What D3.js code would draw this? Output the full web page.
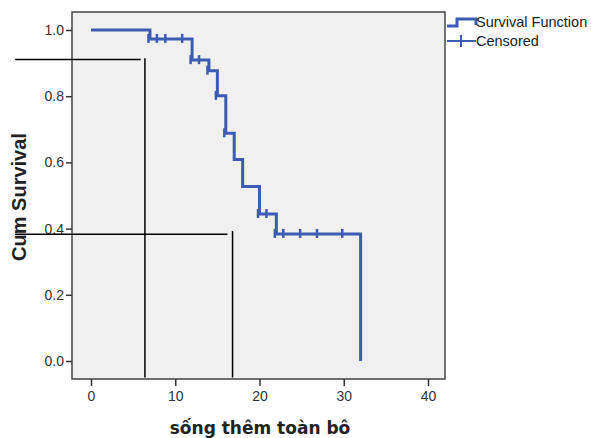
<!DOCTYPE html>
<html>
<head>
<meta charset="utf-8">
<script src="https://cdn.jsdelivr.net/npm/d3@7"></script>
<style>
  body { margin: 0; background: #fff; }
  svg text { font-family: Arial, "Liberation Sans", sans-serif; }
</style>
</head>
<body>
<div id="km-chart"></div>
<script>
// step points of the survival curve (time, cum survival)
var stepTimes = [0, 7, 12, 14, 15, 16, 17, 18, 20, 22, 32];
var stepSurvival = [1.0, 0.973, 0.909, 0.877, 0.801, 0.688, 0.609, 0.527, 0.444, 0.384, 0.0];

// censored cases
var censorTimes = [7, 8, 9, 11, 12, 13, 14, 15, 16, 20, 21, 22, 23, 25, 27, 30];

var xTicks = [0, 10, 20, 30, 40];
var yTicks = [0, 0.2, 0.4, 0.6, 0.8, 1.0];

// hand drawn reading lines (time range, survival)
var refHorizontal = [[-9, 5.9, 0.911], [-9, 16.2, 0.383]];
var refVertical = [[6.4, 0.915, -0.05], [16.8, 0.393, -0.05]];

var legendLabels = ["Survival Function", "Censored"];

var width = 591, height = 438;
var blue = "#3e5bb4";

var svg = d3.select("#km-chart").append("svg")
    .attr("width", width)
    .attr("height", height);

var frame = {left: 72, top: 12, right: 445, bottom: 379};

var x = d3.scaleLinear().domain([0, 40]).range([91, 428]);
var y = d3.scaleLinear().domain([0, 1]).range([361, 30]);

// plot background
svg.append("rect")
    .attr("x", frame.left)
    .attr("y", frame.top)
    .attr("width", frame.right - frame.left)
    .attr("height", frame.bottom - frame.top)
    .attr("fill", "#f0f0f0")
    .attr("stroke", "#444")
    .attr("stroke-width", 1.5);

// axes
var yAxis = d3.axisLeft(y).tickValues(yTicks).tickFormat(d3.format(".1f")).tickSize(6).tickPadding(2);
var xAxis = d3.axisBottom(x).tickValues(xTicks).tickFormat(d3.format("d")).tickSize(7).tickPadding(5);

var gy = svg.append("g")
    .attr("transform", "translate(" + frame.left + ",0)")
    .call(yAxis);
var gx = svg.append("g")
    .attr("transform", "translate(0," + frame.bottom + ")")
    .call(xAxis);

[gx, gy].forEach(function(g){
    g.select(".domain").remove();
    g.selectAll(".tick line").attr("stroke", "#333").attr("stroke-width", 1.5);
    g.selectAll(".tick text").attr("fill", "#333").style("font-size", "14px");
});

// survival curve as a step line
var curve = d3.line()
    .x(function(d){ return x(d[0]); })
    .y(function(d){ return y(d[1]); })
    .curve(d3.curveStepAfter);

var stepData = stepTimes.map(function(t, i){ return [t, stepSurvival[i]]; });

svg.append("path")
    .datum(stepData)
    .attr("d", curve)
    .attr("fill", "none")
    .attr("stroke", blue)
    .attr("stroke-width", 3);

// survival at time t (value after any drop at t)
var survivalAt = function(t){
    var s = stepSurvival[0];
    stepTimes.forEach(function(st, i){
        if (st <= t) s = stepSurvival[i];
    });
    return s;
};

svg.selectAll(".censor")
    .data(censorTimes)
    .enter()
    .append("line")
    .attr("class", "censor")
    .attr("x1", function(d){ return x(d) - 1.5; })
    .attr("x2", function(d){ return x(d) - 1.5; })
    .attr("y1", function(d){ return y(survivalAt(d)) - 5; })
    .attr("y2", function(d){ return y(survivalAt(d)) + 4; })
    .attr("stroke", blue)
    .attr("stroke-width", 2.5);

// reference lines
svg.selectAll(".ref-h")
    .data(refHorizontal)
    .enter()
    .append("line")
    .attr("class", "ref-h")
    .attr("x1", function(d){ return x(d[0]); })
    .attr("x2", function(d){ return x(d[1]); })
    .attr("y1", function(d){ return y(d[2]); })
    .attr("y2", function(d){ return y(d[2]); })
    .attr("stroke", "#000")
    .attr("stroke-width", 1.5);

svg.selectAll(".ref-v")
    .data(refVertical)
    .enter()
    .append("line")
    .attr("class", "ref-v")
    .attr("x1", function(d){ return x(d[0]); })
    .attr("x2", function(d){ return x(d[0]); })
    .attr("y1", function(d){ return y(d[1]); })
    .attr("y2", function(d){ return y(d[2]); })
    .attr("stroke", "#000")
    .attr("stroke-width", 1.5);

// axis titles
svg.append("text")
    .attr("x", 260)
    .attr("y", 434)
    .attr("text-anchor", "middle")
    .attr("font-weight", "bold")
    .style("font-family", "'DejaVu Sans', Verdana, sans-serif")
    .style("font-size", "17px")
    .attr("fill", "#222")
    .text("sống thêm toàn bô");

svg.append("text")
    .attr("transform", "translate(26,197) rotate(-90)")
    .attr("text-anchor", "middle")
    .attr("font-weight", "bold")
    .style("font-size", "20px")
    .attr("fill", "#222")
    .text("Cum Survival");

// legend
var legend = svg.append("g").attr("transform", "translate(447,0)");

legend.append("path")
    .attr("d", "M0,26 H10 V19 H29 V25")
    .attr("fill", "none")
    .attr("stroke", blue)
    .attr("stroke-width", 3);

legend.append("line")
    .attr("x1", 0).attr("x2", 29)
    .attr("y1", 41).attr("y2", 41)
    .attr("stroke", blue).attr("stroke-width", 2);
legend.append("line")
    .attr("x1", 14).attr("x2", 14)
    .attr("y1", 35).attr("y2", 47)
    .attr("stroke", blue).attr("stroke-width", 2);

legend.selectAll(".legend-text")
    .data(legendLabels)
    .enter()
    .append("text")
    .attr("class", "legend-text")
    .attr("x", 29)
    .attr("y", function(d, i){ return 27 + i * 19; })
    .style("font-size", "14.5px")
    .attr("fill", "#222")
    .text(function(d){ return d; });
</script>
</body>
</html>
